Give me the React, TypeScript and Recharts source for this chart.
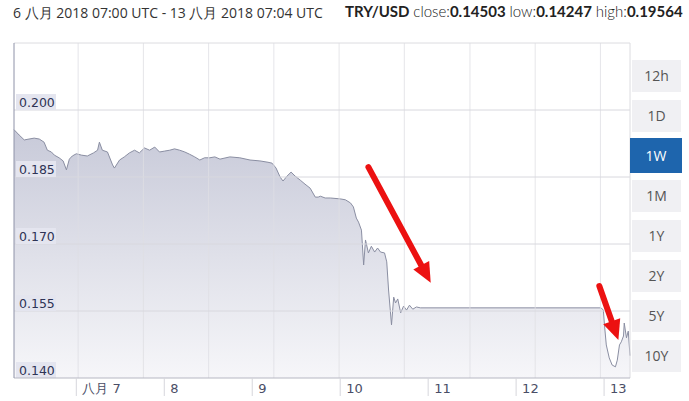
import { AreaChart, Area, XAxis, YAxis, CartesianGrid, ReferenceLine } from "recharts";

// hours since 6 Aug 2018 00:00 UTC
const hours = [
  7, 8.4, 9.8, 11.1, 12.5, 13.9, 15.2, 16.1, 17.2, 18.0, 19.3, 20.4, 21.3, 22.1, 22.9, 24.0,
  25.4, 27.0, 28.7, 29.8, 30.3, 31.1, 32.5, 33.9, 34.4, 35.8, 37.1, 38.5, 39.9, 41.2, 42.6,
  44.0, 45.4, 46.7, 48.1, 49.5, 50.8, 52.2, 53.6, 54.9, 56.3, 57.7, 59.0, 60.4, 61.8, 63.2,
  65.9, 68.6, 71.4, 74.1, 76.3, 77.4, 78.5, 79.6, 80.4, 81.5, 82.6, 83.7, 85.1, 86.4, 87.8,
  89.2, 90.0, 90.6, 91.9, 93.3, 96.0, 97.4, 98.8, 99.6, 100.4, 101.0, 101.8, 102.4, 102.9,
  103.7, 104.5, 105.4, 106.2, 107.0, 108.1, 108.7, 109.2, 110.0, 110.6, 111.1, 111.7, 112.5,
  113.3, 114.1, 114.9, 115.8, 116.8, 117.9, 167.2, 167.8, 168.1, 168.6, 169.4, 170.2, 171.1,
  171.6, 172.2, 172.7, 173.3, 173.5, 174.1, 174.6, 175.07,
];
const rates = [
  0.1956, 0.1944, 0.1933, 0.1935, 0.1937, 0.1935, 0.1928, 0.191, 0.1906, 0.1899, 0.1893, 0.1886,
  0.1866, 0.189, 0.1897, 0.1902, 0.1899, 0.1897, 0.1904, 0.191, 0.1928, 0.191, 0.1906, 0.1877,
  0.187, 0.1888, 0.1895, 0.1904, 0.191, 0.1904, 0.1915, 0.191, 0.1917, 0.1906, 0.1908, 0.191,
  0.1913, 0.191, 0.1906, 0.1901, 0.1895, 0.1888, 0.1893, 0.1893, 0.1895, 0.189, 0.1895, 0.1893,
  0.1888, 0.1886, 0.1883, 0.1881, 0.187, 0.185, 0.1841, 0.1852, 0.1861, 0.1852, 0.1843, 0.1834,
  0.1825, 0.1805, 0.1805, 0.1807, 0.1803, 0.1803, 0.1801, 0.1799, 0.1792, 0.1783, 0.1758,
  0.1749, 0.1731, 0.1653, 0.1709, 0.168, 0.1695, 0.1682, 0.1691, 0.1682, 0.168, 0.166, 0.1597,
  0.1519, 0.1581, 0.1568, 0.1577, 0.1546, 0.1561, 0.1552, 0.1563, 0.1554, 0.1559, 0.1557,
  0.1557, 0.1552, 0.1519, 0.1474, 0.1445, 0.1429, 0.1425, 0.144, 0.1474, 0.1481, 0.1494,
  0.1523, 0.149, 0.1505, 0.145,
];

const dayTicks = [24, 48, 72, 96, 120, 144, 168];
const dayLabels = ["八月 7", "8", "9", "10", "11", "12", "13"];
const rateTicks = [0.14, 0.155, 0.17, 0.185, 0.2];
const gridHours = [24.5, 42.3, 60.1, 77.9, 95.7, 113.5, 131.4, 149.2, 167.0];
const ranges = ["12h", "1D", "1W", "1M", "1Y", "2Y", "5Y", "10Y"];
const activeRange = "1W";
const arrows = [
  [{ x: 103.7, y: 0.1872 }, { x: 120.7, y: 0.1613 }],
  [{ x: 166.7, y: 0.1606 }, { x: 171.9, y: 0.1485 }],
];

const data = hours.map((h, i) => ({ h, rate: rates[i] }));

function DayTick({ x, y, payload }: any) {
  const i = dayTicks.indexOf(payload.value);
  return (
    <g>
      <line x1={x} y1={y} x2={x} y2={y + 18} stroke="#d6d6dc" />
      <text x={x + 6} y={y + 15} fontSize={13} fill="#4a4e66" fontFamily="DejaVu Sans, sans-serif">
        {dayLabels[i]}
      </text>
    </g>
  );
}

function Arrow(p: any) {
  const { x1, y1, x2, y2 } = p;
  const dx = x2 - x1;
  const dy = y2 - y1;
  const len = Math.sqrt(dx * dx + dy * dy);
  const ux = dx / len;
  const uy = dy / len;
  const head = 20;
  const bx = x2 - ux * head;
  const by = y2 - uy * head;
  return (
    <g>
      <line x1={x1} y1={y1} x2={bx} y2={by} stroke="#ec1111" strokeWidth={6} strokeLinecap="round" />
      <polygon
        points={`${x2},${y2} ${bx - uy * 9},${by + ux * 9} ${bx + uy * 9},${by - ux * 9}`}
        fill="#ec1111"
      />
    </g>
  );
}

function RateLabel({ viewBox, value }: any) {
  const { x, y } = viewBox;
  return (
    <g>
      <rect x={x + 2} y={y - 16} width={40} height={16} fill="#e4e5ef" />
      <text x={x + 5} y={y - 3} fontSize={12.5} fill="#2e3355" fontFamily="DejaVu Sans, sans-serif">
        {value}
      </text>
    </g>
  );
}

export default function App() {
  return (
    <div style={{ position: "absolute", left: 0, top: 0, width: 689, height: 401, background: "#fff" }}>
      <div
        style={{
          position: "absolute",
          left: 13,
          top: 3,
          fontFamily: "'Open Sans', sans-serif",
          fontSize: 14,
          color: "#333",
          whiteSpace: "nowrap",
        }}
      >
        6 八月 2018 07:00 UTC - 13 八月 2018 07:04 UTC
      </div>
      <div
        style={{
          position: "absolute",
          left: 345,
          top: 2,
          fontFamily: "Lato, sans-serif",
          fontSize: 15,
          color: "#222",
          whiteSpace: "nowrap",
        }}
      >
        <b>TRY/USD</b> <span style={{ fontWeight: 300 }}>close:</span>
        <b>0.14503</b> <span style={{ fontWeight: 300 }}>low:</span>
        <b>0.14247</b> <span style={{ fontWeight: 300 }}>high:</span>
        <b>0.19564</b>
      </div>
      <AreaChart width={689} height={401} data={data} margin={{ top: 43, right: 59, bottom: 0, left: 13 }}>
        <defs>
          <linearGradient id="fillGrad" x1="0" y1="0" x2="0" y2="1">
            <stop offset="0%" stopColor="#c8cad9" />
            <stop offset="100%" stopColor="#f6f6f9" />
          </linearGradient>
        </defs>
        <XAxis
          dataKey="h"
          type="number"
          domain={[7, 175.07]}
          ticks={dayTicks}
          height={23}
          tickSize={0}
          tickMargin={0}
          tickLine={false}
          axisLine={{ stroke: "#b6b7c2" }}
          tick={<DayTick />}
          interval={0}
        />
        <YAxis
          type="number"
          domain={[0.14, 0.215]}
          ticks={rateTicks}
          width={1}
          tick={false}
          tickLine={false}
          axisLine={{ stroke: "#8e92a8" }}
          allowDataOverflow
        />
        <Area
          type="linear"
          dataKey="rate"
          stroke="#8a8ea2"
          strokeWidth={1}
          fill="url(#fillGrad)"
          fillOpacity={1}
          dot={false}
          activeDot={false}
          isAnimationActive={false}
        />
        {gridHours.map((g) => (
          <ReferenceLine key={g} x={g} stroke="#dedee4" strokeOpacity={0.8} />
        ))}
        {rateTicks.slice(1).map((t) => (
          <ReferenceLine key={t} y={t} stroke="#d8d8de" />
        ))}
        {rateTicks.map((t) => (
          <ReferenceLine
            key={"l" + t}
            y={t}
            stroke="none"
            label={<RateLabel value={t.toFixed(3)} />}
          />
        ))}
        <ReferenceLine y={0.215} stroke="#dcdce0" />
        <ReferenceLine x={175.07} stroke="#dcdce0" />
        {arrows.map((seg, i) => (
          <ReferenceLine key={i} segment={seg} ifOverflow="visible" shape={<Arrow />} />
        ))}
      </AreaChart>
      {ranges.map((r, i) => {
        const active = r === activeRange;
        return (
          <div
            key={r}
            style={{
              position: "absolute",
              left: active ? 630 : 632,
              top: 60 + i * 40 - (active ? 2 : 0),
              width: active ? 52 : 49,
              height: active ? 35 : 32,
              lineHeight: active ? "35px" : "32px",
              textAlign: "center",
              background: active ? "#1e65ad" : "#f0f0f3",
              color: active ? "#fff" : "#555",
              fontFamily: "'Open Sans', sans-serif",
              fontSize: 14,
            }}
          >
            {r}
          </div>
        );
      })}
    </div>
  );
}
